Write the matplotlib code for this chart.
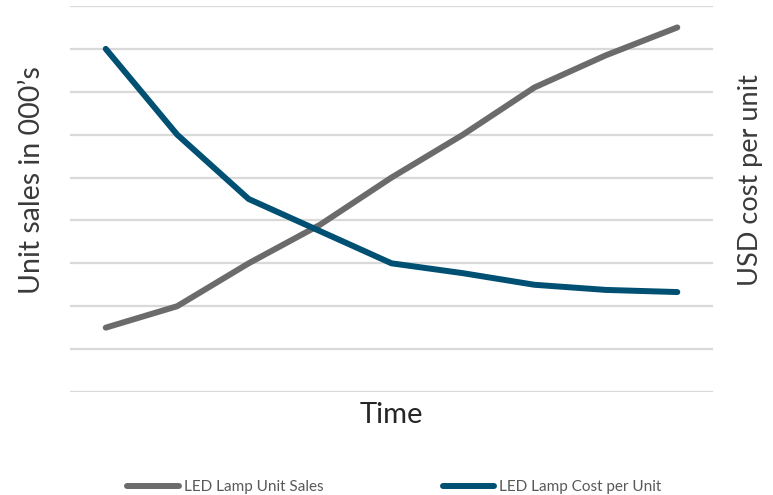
import matplotlib
matplotlib.use("Agg")
import matplotlib.pyplot as plt

# Time periods (unlabelled on the axis)
periods = list(range(9))
unit_sales = [1.5, 2.0, 3.0, 3.9, 5.0, 6.0, 7.1, 7.85, 8.5]
cost_per_unit = [8.0, 6.0, 4.5, 3.75, 3.0, 2.77, 2.5, 2.38, 2.33]

series_names = ["LED Lamp Unit Sales", "LED Lamp Cost per Unit"]
sales_color = "#6b6b6b"
cost_color = "#005073"
grid_color = "#d9d9d9"

plt.rcParams["font.family"] = ["Lato", "DejaVu Sans"]

fig = plt.figure(figsize=(7.73, 4.95), dpi=100)
ax = fig.add_axes([0.0906, 0.2081, 0.9224 - 0.0906, 0.9879 - 0.2081])
ax2 = ax.twinx()

for a in (ax, ax2):
    a.set_xlim(-0.5, 8.5)
    a.set_ylim(0, 9)
    for s in a.spines.values():
        s.set_visible(False)
    a.tick_params(left=False, right=False, bottom=False,
                  labelleft=False, labelright=False, labelbottom=False)

ax.set_yticks(range(10))
ax2.set_yticks([])
ax.grid(axis="y", color=grid_color, linewidth=1.6)
ax.set_axisbelow(True)

l1, = ax.plot(periods, unit_sales, color=sales_color, linewidth=4.3,
              solid_capstyle="round", solid_joinstyle="round",
              label=series_names[0])
l2, = ax2.plot(periods, cost_per_unit, color=cost_color, linewidth=4.3,
               solid_capstyle="round", solid_joinstyle="round",
               label=series_names[1])

ax.set_ylabel("Unit sales in 000’s", fontsize=20.5, color="#3a3a3a")
ax.yaxis.set_label_coords(-0.039, 0.55)
ax2.set_ylabel("USD cost per unit", fontsize=19.5, color="#3a3a3a", rotation=90)
ax2.yaxis.set_label_coords(1.039, 0.55)
ax.set_xlabel("Time", fontsize=21, color="#262626")
ax.xaxis.set_label_coords(0.5, -0.026)

fig.legend(handles=[l1, l2], loc="lower center", ncol=2, frameon=False,
           fontsize=11, labelcolor="#595959", handlelength=3.4,
           handletextpad=0.3, columnspacing=7.8,
           bbox_to_anchor=(0.51, -0.026))

fig.savefig("out.png", dpi=100)
